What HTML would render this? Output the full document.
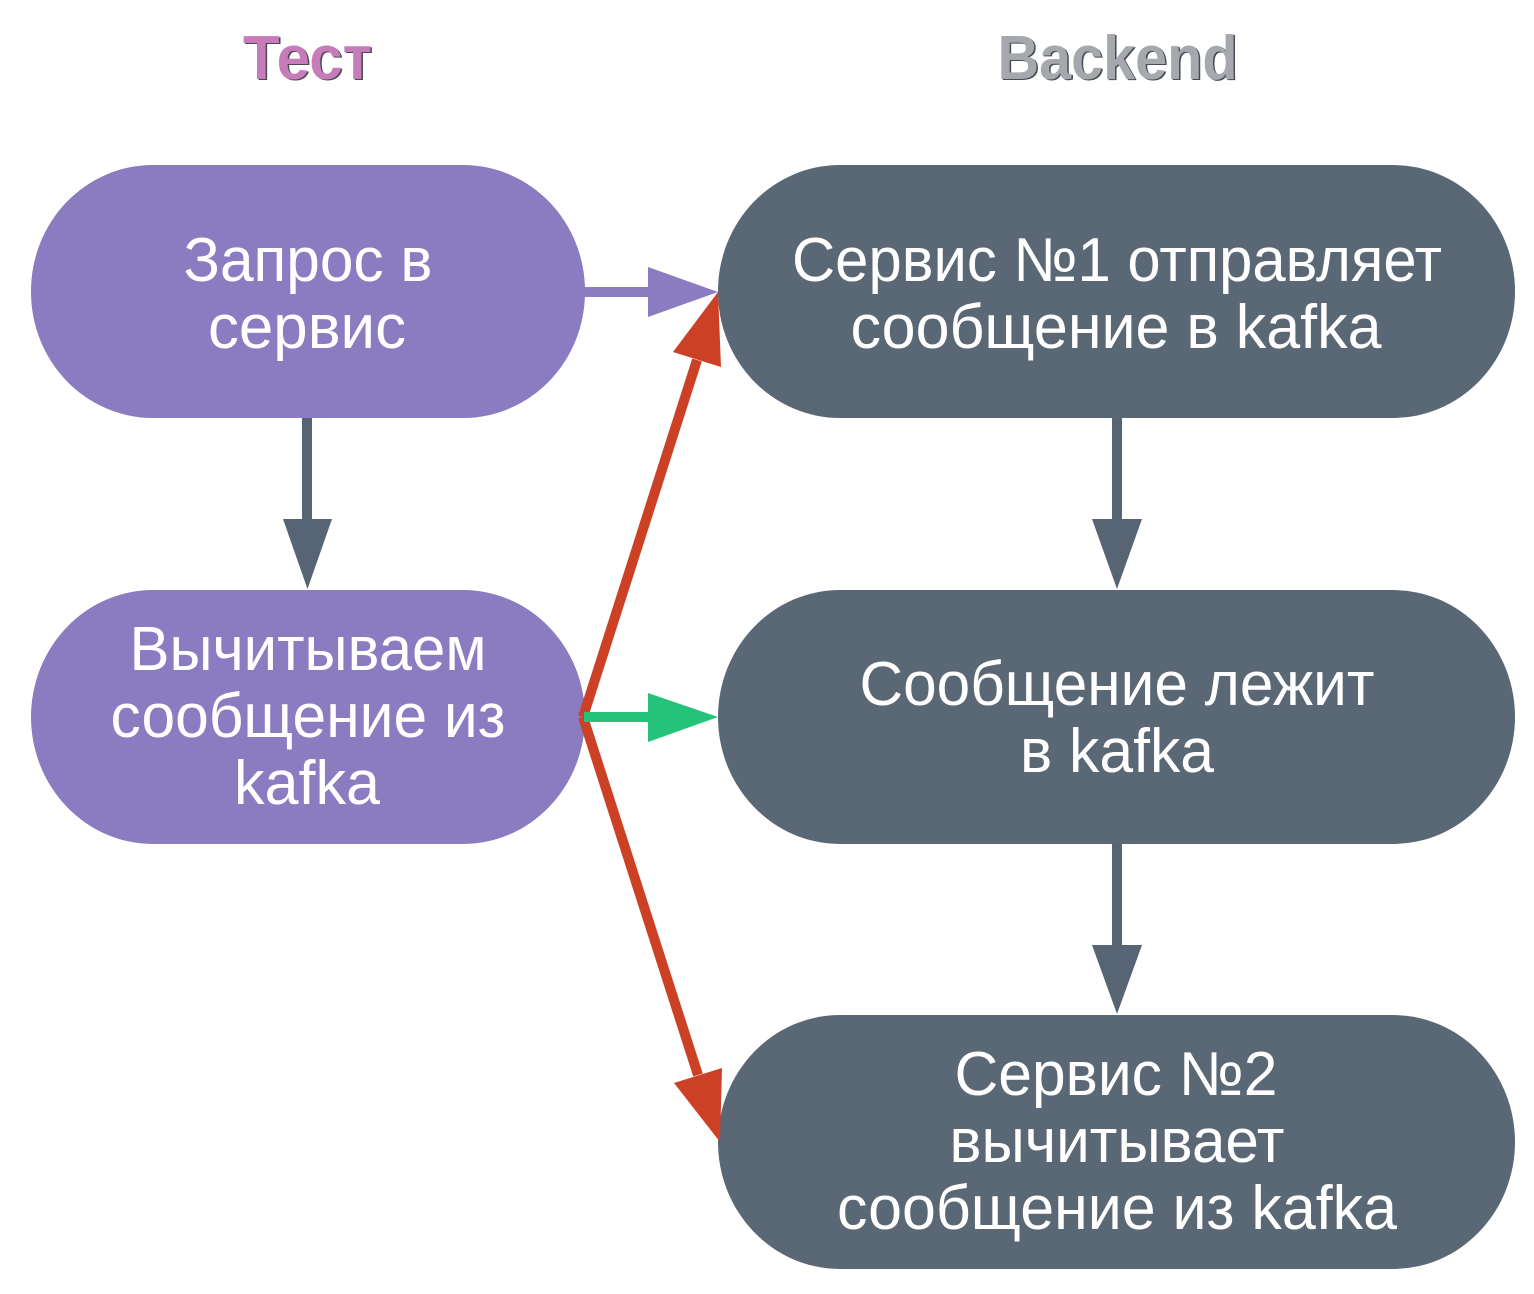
<!DOCTYPE html>
<html><head><meta charset="utf-8"><style>
html,body{margin:0;padding:0;background:#fff;}
svg{display:block;}
text{font-family:"Liberation Sans","DejaVu Sans",sans-serif;}
</style></head><body>
<svg width="1534" height="1294" viewBox="0 0 1534 1294" xmlns="http://www.w3.org/2000/svg">
<!-- headers -->
<text x="309" y="80" font-size="62" font-weight="bold" fill="#4a4a55" text-anchor="middle" textLength="129" lengthAdjust="spacingAndGlyphs">Тест</text>
<text x="307.5" y="79" font-size="62" font-weight="bold" fill="#c77cba" text-anchor="middle" textLength="129" lengthAdjust="spacingAndGlyphs">Тест</text>
<text x="1119" y="80" font-size="62" font-weight="bold" fill="#4a4a55" text-anchor="middle" textLength="240" lengthAdjust="spacingAndGlyphs">Backend</text>
<text x="1117.5" y="79" font-size="62" font-weight="bold" fill="#a5a9ae" text-anchor="middle" textLength="240" lengthAdjust="spacingAndGlyphs">Backend</text>

<!-- nodes -->
<rect x="31" y="165" width="554" height="253" rx="122" ry="126" fill="#8b7cc1"/>
<rect x="31" y="590" width="554" height="254" rx="122" ry="127" fill="#8b7cc1"/>
<rect x="718" y="165" width="797" height="253" rx="122" ry="126" fill="#5a6775"/>
<rect x="718" y="590" width="797" height="254" rx="122" ry="127" fill="#5a6775"/>
<rect x="718" y="1015" width="797" height="254" rx="122" ry="127" fill="#5a6775"/>

<!-- vertical arrows -->
<rect x="302" y="418" width="10" height="102" fill="#566473"/>
<polygon points="283,519 332,519 307.5,589" fill="#566473"/>
<rect x="1112" y="418" width="10" height="102" fill="#566473"/>
<polygon points="1092,519 1142,519 1117,589" fill="#566473"/>
<rect x="1112" y="844" width="10" height="102" fill="#566473"/>
<polygon points="1092,945 1142,945 1117,1014" fill="#566473"/>

<!-- purple horizontal arrow -->
<rect x="584" y="287" width="65" height="10" fill="#8b7cc1"/>
<polygon points="648,267 648,317 718,292" fill="#8b7cc1"/>

<!-- red arrows -->
<line x1="583" y1="717" x2="697" y2="360" stroke="#cc4126" stroke-width="10"/>
<polygon points="718,292 673,352 721,367" fill="#cc4126"/>
<line x1="583" y1="717" x2="698" y2="1075" stroke="#cc4126" stroke-width="10"/>
<polygon points="720,1142 674,1083 722,1068" fill="#cc4126"/>

<!-- green arrow -->
<rect x="584" y="712" width="65" height="10" fill="#25c27a"/>
<polygon points="648,693 648,742 718,717" fill="#25c27a"/>

<!-- node texts -->
<g fill="#ffffff" font-size="62" text-anchor="middle">
<text x="308" y="281" textLength="249" lengthAdjust="spacingAndGlyphs">Запрос в</text>
<text x="307" y="348" textLength="198" lengthAdjust="spacingAndGlyphs">сервис</text>

<text x="308" y="670" textLength="357" lengthAdjust="spacingAndGlyphs">Вычитываем</text>
<text x="308" y="737" textLength="395" lengthAdjust="spacingAndGlyphs">сообщение из</text>
<text x="307" y="804" textLength="146" lengthAdjust="spacingAndGlyphs">kafka</text>

<text x="1117" y="281" textLength="650" lengthAdjust="spacingAndGlyphs">Сервис №1 отправляет</text>
<text x="1116" y="348" textLength="531" lengthAdjust="spacingAndGlyphs">сообщение в kafka</text>

<text x="1117" y="705" textLength="515" lengthAdjust="spacingAndGlyphs">Сообщение лежит</text>
<text x="1117" y="772" textLength="194" lengthAdjust="spacingAndGlyphs">в kafka</text>

<text x="1116" y="1095" textLength="323" lengthAdjust="spacingAndGlyphs">Сервис №2</text>
<text x="1117" y="1162" textLength="335" lengthAdjust="spacingAndGlyphs">вычитывает</text>
<text x="1117" y="1229" textLength="560" lengthAdjust="spacingAndGlyphs">сообщение из kafka</text>
</g>
</svg>
</body></html>
